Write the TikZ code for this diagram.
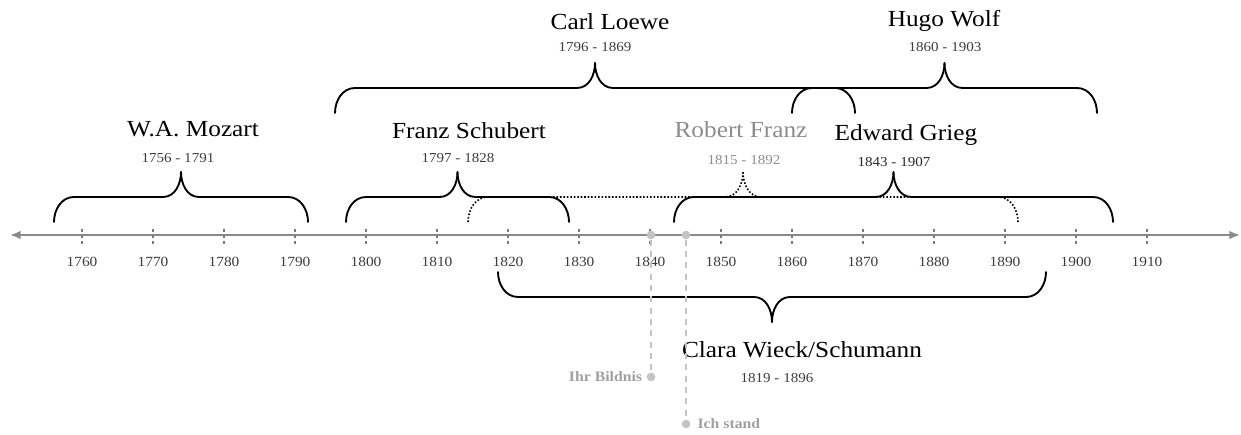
\documentclass[tikz,border=0pt]{standalone}
\usepackage{fontspec}
\setmainfont{Liberation Serif}[FakeStretch=1.1]
\usetikzlibrary{arrows.meta,positioning}

\definecolor{axisgrey}{HTML}{8A8A8A}
\definecolor{tickgrey}{HTML}{7A7A7A}
\definecolor{yeargrey}{HTML}{3C3C3C}
\definecolor{fadegrey}{HTML}{8C8C8C}
\definecolor{dotgrey}{HTML}{C4C4C4}
\definecolor{cuegrey}{HTML}{A0A0A0}

% [style]{left end}{right end}{end height}{1 = opens down, -1 = opens up}
\newcommand{\lifebrace}[5][]{%
  \pgfmathsetmacro{\bmid}{(#2+#3)/2}%
  \pgfmathsetmacro{\bflat}{#4+25*#5}%
  \pgfmathsetmacro{\btip}{#4+50*#5}%
  \pgfmathsetmacro{\bout}{90*#5}%
  \pgfmathsetmacro{\bin}{-90*#5}%
  \draw[bracket,#1] (#2,#4) to[out=\bout,in=180] (#2+20,\bflat)
    -- (\bmid-18,\bflat) to[out=0,in=\bin] (\bmid,\btip);
  \draw[bracket,#1] (#3,#4) to[out=\bout,in=0] (#3-20,\bflat)
    -- (\bmid+18,\bflat) to[out=180,in=\bin] (\bmid,\btip);
}

\begin{document}
\begin{tikzpicture}[x=0.75pt,y=0.75pt,
    bracket/.style={
% The stroke:
line width=1.4pt, line cap=round,
},
    dotted brace/.style={
% The stroke:
line width=1.2pt, line cap=butt, dash pattern=on 1.2pt off 1.4pt,
},
    composer/.style={
% The text:
anchor=base, inner sep=0pt, font=\fontsize{17.25}{20}\selectfont,
},
    years/.style={
% The text:
anchor=base, inner sep=0pt, text=yeargrey, font=\fontsize{10.25}{12}\selectfont,
},
    yearmark/.style={
% The text:
anchor=base, inner sep=0pt, text=yeargrey, font=\fontsize{10.5}{12}\selectfont,
},
    tickmark/.style={
% The stroke:
tickgrey, line width=1.2pt, dash pattern=on 2.4pt off 2.2pt,
},
    timeline/.style={
% The stroke:
axisgrey, line width=1.4pt,
{Latex[length=8pt,width=6.5pt]}-{Latex[length=8pt,width=6.5pt]},
},
    waypoint/.style={
% The shape:
circle, inner sep=0pt, minimum size=6.5pt,
% The fill:
fill=dotgrey,
},
    drop/.style={
% The stroke:
dotgrey, line width=1.5pt, dash pattern=on 4.5pt off 4pt,
},
    cue/.style={
% The text:
inner sep=0pt, text=cuegrey, font=\bfseries\fontsize{10.75}{12}\selectfont,
},
]
  \useasboundingbox (0,0) rectangle (1241,435);

  % axis with decades
  \coordinate (past) at (10,200);
  \coordinate (future) at (1240,200);
  \draw[timeline] (past) -- (future);
  \foreach \i in {0,...,15} {
    \pgfmathtruncatemacro{\yr}{1760+10*\i}
    \draw[tickmark] (82+71*\i,191) -- (82+71*\i,209);
    \node[yearmark] (tick-\yr) at (82+71*\i,168) {\yr};
  }

  % lifetimes
  \lifebrace[dotted brace]{468}{1018}{213}{1}
  \lifebrace{54}{308}{213}{1}
  \lifebrace{346}{569}{213}{1}
  \lifebrace{674}{1113}{213}{1}
  \lifebrace{335}{855}{322}{1}
  \lifebrace{792}{1097}{322}{1}
  \lifebrace{498}{1046}{163}{-1}

  \node[composer]                (mozart) at (193,298) {W.A. Mozart};
  \node[years]               (mozart-yrs) at (178,272) {1756 - 1791};
  \node[composer]              (schubert) at (469,296) {Franz Schubert};
  \node[years]             (schubert-yrs) at (458,272) {1797 - 1828};
  \node[composer,text=fadegrey]   (franz) at (741,297) {Robert Franz};
  \node[years,text=fadegrey]  (franz-yrs) at (744,270) {1815 - 1892};
  \node[composer]                 (grieg) at (906,294) {Edward Grieg};
  \node[years,text=black!85]  (grieg-yrs) at (894,268) {1843 - 1907};
  \node[composer]                 (loewe) at (610,405) {Carl Loewe};
  \node[years]                (loewe-yrs) at (595,383) {1796 - 1869};
  \node[composer]                  (wolf) at (944,408) {Hugo Wolf};
  \node[years]                 (wolf-yrs) at (945,383) {1860 - 1903};
  \node[composer]                 (clara) at (802,77) {Clara Wieck/Schumann};
  \node[years]                (clara-yrs) at (777,52) {1819 - 1896};

  % songs
  \node[waypoint] (bildnis-top) at (651,200) {};
  \node[waypoint] (bildnis) at (651,58) {};
  \draw[drop] (bildnis-top) -- (bildnis);
  \node[cue,left=3pt of bildnis] (bildnis-label) {Ihr Bildnis};
  \node[waypoint] (stand-top) at (686,200) {};
  \node[waypoint] (stand) at (686,11) {};
  \draw[drop] (stand-top) -- (stand);
  \node[cue,right=5pt of stand] (stand-label) {Ich stand};

\end{tikzpicture}
\end{document}
